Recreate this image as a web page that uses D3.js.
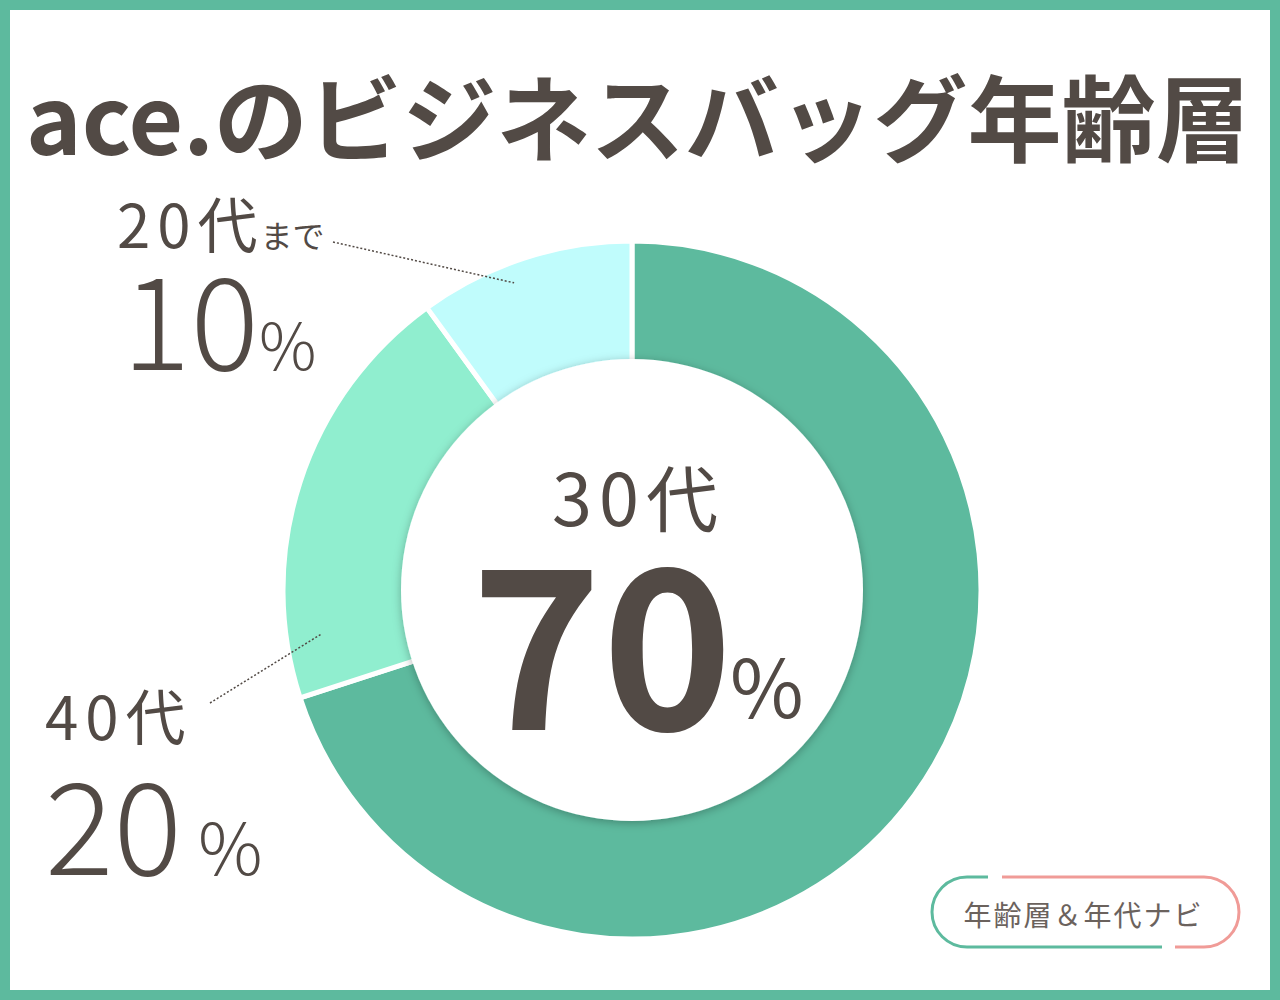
<!DOCTYPE html>
<html>
<head>
<meta charset="utf-8">
<script src="https://cdn.jsdelivr.net/npm/d3@7"></script>
<style>
  html, body { margin: 0; padding: 0; background: #fff; }
  svg { display: block; }
  text { font-family: "Noto Sans CJK JP", "Noto Sans", sans-serif; fill: #524a45; }
</style>
</head>
<body>
<div id="chart"></div>
<script>
const title = "ace.のビジネスバッグ年齢層";
const categories = ["30代", "40代", "20代"];
const suffixes = ["", "", "まで"];
const values = [70, 20, 10];
const colors = ["#5dba9e", "#90eecf", "#c0fcfc"];
const badge = "年齢層＆年代ナビ";

const W = 1280, H = 1000;
const cx = 632, cy = 590;
const outerR = 349, innerR = 231;

const svg = d3.select("#chart")
    .append("svg")
    .attr("width", W)
    .attr("height", H);

// frame
svg.append("rect").attr("width", W).attr("height", H).attr("fill", "#5dba9e");
svg.append("rect").attr("x", 10).attr("y", 10)
    .attr("width", W - 20).attr("height", H - 20).attr("fill", "#fff");

const defs = svg.append("defs");
defs.append("filter").attr("id", "shadow")
    .attr("x", "-20%").attr("y", "-20%").attr("width", "140%").attr("height", "140%")
    .append("feDropShadow")
    .attr("dx", 0).attr("dy", 2)
    .attr("stdDeviation", 5)
    .attr("flood-color", "#000")
    .attr("flood-opacity", 0.28);

// title
svg.append("text")
    .attr("x", 26).attr("y", 155)
    .attr("textLength", 1224).attr("lengthAdjust", "spacingAndGlyphs")
    .style("font-size", "94px").style("font-weight", 700)
    .text(title);

// donut
const pie = d3.pie().sort(null).value(d => d)(values);
const arc = d3.arc().innerRadius(innerR - 10).outerRadius(outerR);

const g = svg.append("g").attr("transform", `translate(${cx},${cy})`);

g.selectAll("path.slice")
    .data(pie)
    .join("path")
    .attr("class", "slice")
    .attr("d", arc)
    .attr("fill", (d, i) => colors[i])
    .attr("stroke", "#fff")
    .attr("stroke-width", 5);

g.append("circle")
    .attr("r", innerR)
    .attr("fill", "#fff")
    .attr("filter", "url(#shadow)");

// center label (largest slice)
const main = 0;
g.append("text")
    .attr("x", -80).attr("y", -64)
    .style("font-size", "72px")
    .style("letter-spacing", "7px")
    .text(categories[main]);

g.append("text")
    .attr("x", -30).attr("y", 140)
    .attr("text-anchor", "middle")
    .style("font-size", "222px").style("font-weight", 700)
    .text(values[main]);

g.append("text")
    .attr("x", 98).attr("y", 128)
    .style("font-size", "80px")
    .text("%");

// outside labels: angle (deg from top, clockwise) and radius of leader end
const leader = [
    null,
    { ang: 262, r: 313, lx: 45, ly: 740, px: 45, py: 875, pdx: 16, tx: 210, ty: 703 },
    { ang: 339, r: 329, lx: 117, ly: 248, px: 122, py: 370, pdx: 0, tx: 333, ty: 242 }
];

pie.forEach((d, i) => {
    const L = leader[i];
    if (!L) return;
    const a = L.ang * Math.PI / 180;
    const ex = cx + L.r * Math.sin(a), ey = cy - L.r * Math.cos(a);

    svg.append("line")
        .attr("x1", L.tx).attr("y1", L.ty)
        .attr("x2", ex).attr("y2", ey)
        .attr("stroke", "#524a45")
        .attr("stroke-width", 1.5)
        .attr("stroke-dasharray", "2,2");

    const t = svg.append("text")
        .attr("x", L.lx).attr("y", L.ly)
        .style("font-size", "60px")
        .style("letter-spacing", "7px");
    t.append("tspan").text(categories[i]);
    if (suffixes[i]) {
        t.append("tspan").attr("dx", -4).style("font-size", "32px")
            .style("letter-spacing", "0px").text(suffixes[i]);
    }

    const p = svg.append("text")
        .attr("x", L.px).attr("y", L.py)
        .style("font-weight", 300);
    p.append("tspan").style("font-size", "128px").text(values[i]);
    p.append("tspan").attr("dx", L.pdx).style("font-size", i === 2 ? "64px" : "72px").text("%");
});

// badge
const bx = 932, by = 877, bw = 307, bh = 70, br = bh / 2;
const gb = svg.append("g");
const greenPath = d3.path();
greenPath.moveTo(988, by);
greenPath.lineTo(bx + br, by);
greenPath.arc(bx + br, by + br, br, -Math.PI / 2, Math.PI / 2, true);
greenPath.lineTo(1162, by + bh);
gb.append("path").attr("d", greenPath.toString())
    .attr("fill", "none").attr("stroke", "#5dba9e").attr("stroke-width", 3);

const pinkPath = d3.path();
pinkPath.moveTo(1002, by);
pinkPath.lineTo(bx + bw - br, by);
pinkPath.arc(bx + bw - br, by + br, br, -Math.PI / 2, Math.PI / 2, false);
pinkPath.lineTo(1175, by + bh);
gb.append("path").attr("d", pinkPath.toString())
    .attr("fill", "none").attr("stroke", "#f09b97").attr("stroke-width", 3);

gb.append("text")
    .attr("x", bx + bw / 2 - 2).attr("y", 926)
    .attr("text-anchor", "middle")
    .style("font-size", "28px")
    .style("letter-spacing", "2px")
    .style("fill", "#6b625d")
    .text(badge);
</script>
</body>
</html>
